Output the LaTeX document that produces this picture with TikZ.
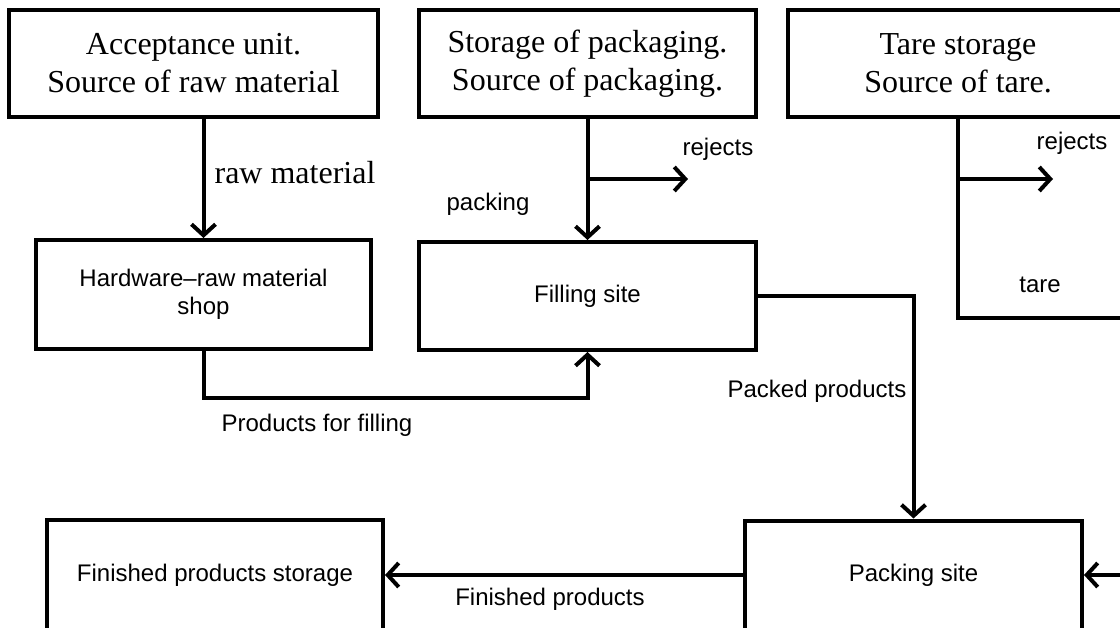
\documentclass[tikz,border=0pt]{standalone}
\usepackage{fontspec}
\setmainfont{Liberation Serif}
\setsansfont{Liberation Sans}
\usetikzlibrary{arrows.meta}
\begin{document}
\begin{tikzpicture}[x=1pt,y=-1pt,
  box/.style={draw,line width=4pt,rectangle,inner sep=0pt,align=center},
  serifbox/.style={box,font=\fontsize{32}{38}\selectfont},
  sansbox/.style={box,font=\sffamily\fontsize{24}{28}\selectfont},
  lbl/.style={inner sep=0pt,font=\sffamily\fontsize{24}{28}\selectfont},
  slbl/.style={inner sep=0pt,font=\fontsize{32}{37}\selectfont},
  conn/.style={line width=4pt},
  arr/.style={conn,-{Straight Barb[length=11pt,width=24pt,line width=4pt]}}]
\useasboundingbox (0,0) rectangle (1120,628);
\clip (0,0) rectangle (1120,628);
% top row
\node[serifbox,minimum width=369pt,minimum height=107pt] (acc) at (193.5,63.5) {Acceptance unit.\\Source of raw material};
\node[serifbox,minimum width=337pt,minimum height=107pt] (stor) at (587.5,63.5) {Storage of packaging.\\Source of packaging.};
\node[serifbox,minimum width=340pt,minimum height=107pt] (tare) at (958,63.5) {Tare storage\\Source of tare.};
% middle row
\node[sansbox,minimum width=335pt,minimum height=109pt] (hw) at (203.5,294.5) {Hardware--raw material\\shop};
\node[sansbox,minimum width=337pt,minimum height=108pt] (fill) at (587.5,296) {Filling site};
% bottom row
\node[sansbox,minimum width=336pt,minimum height=110pt] (fin) at (215,575) {Finished products storage};
\node[sansbox,minimum width=337pt,minimum height=109pt] (pack) at (913.5,575) {Packing site};
% helper coordinates
\coordinate (pf) at (400,398);
\coordinate (br1) at (587.5,179);
\coordinate (rj1) at (688,179);
\coordinate (br2) at (958,179);
\coordinate (rj2) at (1053,179);
\coordinate (tc) at (1135,318);
% connectors
\draw[arr] (acc.south -| hw.north) -- (hw.north);
\draw[arr] (stor.south) -- (fill.north);
\draw[arr] (br1) -- (rj1);
\draw[arr] (hw.south) -- (hw.south |- pf) -| (fill.south);
\draw[arr] (fill.east) -| (pack.north);
\draw[conn] (tare.south) -- (tare.south |- tc) -- (tc);
\draw[arr] (tc) -- (tc |- pack.east) -- (pack.east);
\draw[arr] (br2) -- (rj2);
\draw[arr] (pack.west) -- (fin.east);
% labels
\node[slbl] (lraw) at (295,173) {raw material};
\node[lbl] (lrej1) at (718,149) {rejects};
\node[lbl] (lpack) at (488,204) {packing};
\node[lbl] (lrej2) at (1072,143) {rejects};
\node[lbl] (ltare) at (1040,285) {tare};
\node[lbl] (lpff) at (317,425) {Products for filling};
\node[lbl] (lpp) at (817,391) {Packed products};
\node[lbl] (lfp) at (550,599) {Finished products};
\end{tikzpicture}
\end{document}
